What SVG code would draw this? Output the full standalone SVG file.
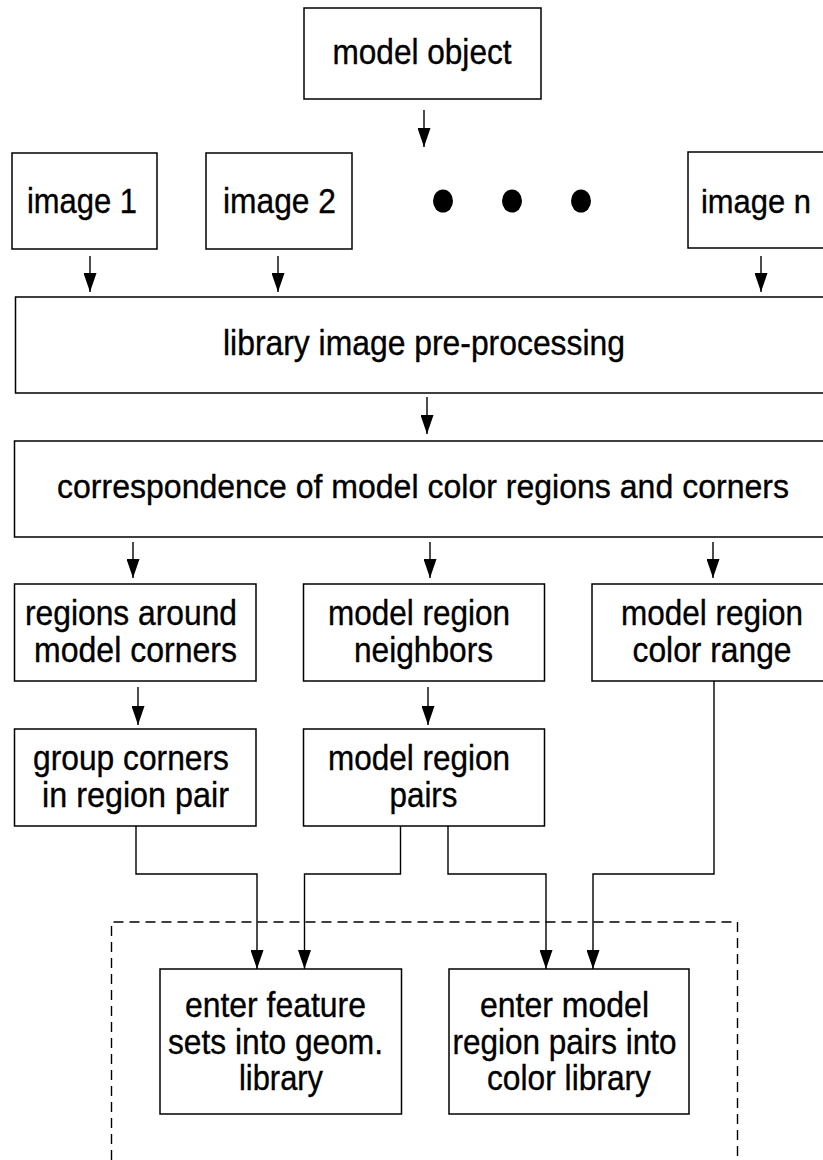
<svg xmlns="http://www.w3.org/2000/svg" width="823" height="1160" viewBox="0 0 823 1160">
  <style>
    .box { fill: #fff; stroke: #000; stroke-width: 1.5; }
    .lbl { font-family: "Liberation Sans", Arial, Helvetica, sans-serif; font-size: 35px; fill: #000; stroke: #000; stroke-width: 0.35; text-anchor: middle; }
    .tight { font-size: 33px; }
    .wire { fill: none; stroke: #000; stroke-width: 1.4; }
    .dash { fill: none; stroke: #000; stroke-width: 1.4; stroke-dasharray: 10 6; }
  </style>
  <defs>
    <marker id="head" markerUnits="userSpaceOnUse" markerWidth="19" markerHeight="13" refX="19" refY="6.5" orient="auto">
      <path d="M0,0 L19,6.5 L0,13 z" fill="#000"/>
    </marker>
  </defs>

  <rect width="823" height="1160" fill="#fff"/>

  <!-- dashed enclosure around the library-entry steps -->
  <path class="dash" d="M111.5,1160 V922 H737.5 V1160"/>

  <g id="model-object">
    <rect class="box" x="304" y="8" width="237" height="91"/>
    <text class="lbl" x="422" y="64" textLength="179" lengthAdjust="spacingAndGlyphs">model object</text>
  </g>

  <g id="image-1">
    <rect class="box" x="12" y="153" width="145" height="96"/>
    <text class="lbl" x="82" y="213" textLength="110" lengthAdjust="spacingAndGlyphs">image 1</text>
  </g>

  <g id="image-2">
    <rect class="box" x="206" y="153" width="146" height="96"/>
    <text class="lbl" x="279.5" y="213" textLength="113" lengthAdjust="spacingAndGlyphs">image 2</text>
  </g>

  <g id="ellipsis">
    <ellipse cx="443" cy="201" rx="10" ry="11.5" fill="#000"/>
    <ellipse cx="512" cy="201" rx="10" ry="11.5" fill="#000"/>
    <ellipse cx="581" cy="201" rx="10" ry="11.5" fill="#000"/>
  </g>

  <!-- boxes that run past the right border are drawn open on that side -->
  <g id="image-n">
    <path class="box" d="M823,152 H688 V248 H823"/>
    <text class="lbl tight" x="756" y="213" textLength="110" lengthAdjust="spacingAndGlyphs">image n</text>
  </g>

  <g id="preprocessing">
    <path class="box" d="M823,297 H15.5 V393 H823"/>
    <text class="lbl" x="424" y="355" textLength="402" lengthAdjust="spacingAndGlyphs">library image pre-processing</text>
  </g>

  <g id="correspondence">
    <path class="box" d="M823,441 H14.5 V537 H823"/>
    <text class="lbl tight" x="423" y="498" textLength="732" lengthAdjust="spacingAndGlyphs">correspondence of model color regions and corners</text>
  </g>

  <g id="regions-around-corners">
    <rect class="box" x="14.5" y="584" width="241.5" height="97"/>
    <text class="lbl" x="131" y="625" textLength="212" lengthAdjust="spacingAndGlyphs">regions around</text>
    <text class="lbl" x="135.5" y="662" textLength="203" lengthAdjust="spacingAndGlyphs">model corners</text>
  </g>

  <g id="region-neighbors">
    <rect class="box" x="303.5" y="584" width="241" height="97"/>
    <text class="lbl" x="419" y="625" textLength="182" lengthAdjust="spacingAndGlyphs">model region</text>
    <text class="lbl" x="423.5" y="662" textLength="139" lengthAdjust="spacingAndGlyphs">neighbors</text>
  </g>

  <g id="color-range">
    <path class="box" d="M823,584 H592 V681 H823"/>
    <text class="lbl" x="712" y="625" textLength="182" lengthAdjust="spacingAndGlyphs">model region</text>
    <text class="lbl" x="712" y="662" textLength="159" lengthAdjust="spacingAndGlyphs">color range</text>
  </g>

  <g id="group-corners">
    <rect class="box" x="14.5" y="729" width="241.5" height="97"/>
    <text class="lbl" x="131" y="770" textLength="196" lengthAdjust="spacingAndGlyphs">group corners</text>
    <text class="lbl" x="135.5" y="807" textLength="187" lengthAdjust="spacingAndGlyphs">in region pair</text>
  </g>

  <g id="region-pairs">
    <rect class="box" x="303.5" y="729" width="241" height="97"/>
    <text class="lbl" x="419" y="770" textLength="182" lengthAdjust="spacingAndGlyphs">model region</text>
    <text class="lbl" x="423.5" y="807" textLength="68" lengthAdjust="spacingAndGlyphs">pairs</text>
  </g>

  <g id="geom-library">
    <rect class="box" x="160" y="969" width="241.5" height="145"/>
    <text class="lbl" x="275.5" y="1017" textLength="181" lengthAdjust="spacingAndGlyphs">enter feature</text>
    <text class="lbl" x="275.5" y="1054" textLength="215" lengthAdjust="spacingAndGlyphs">sets into geom.</text>
    <text class="lbl" x="281" y="1090" textLength="84" lengthAdjust="spacingAndGlyphs">library</text>
  </g>

  <g id="color-library">
    <rect class="box" x="449" y="969" width="240" height="145"/>
    <text class="lbl" x="564.5" y="1017" textLength="169" lengthAdjust="spacingAndGlyphs">enter model</text>
    <text class="lbl" x="564.5" y="1054" textLength="224" lengthAdjust="spacingAndGlyphs">region pairs into</text>
    <text class="lbl" x="569" y="1090" textLength="164" lengthAdjust="spacingAndGlyphs">color library</text>
  </g>

  <g id="connectors">
    <line class="wire" x1="424" y1="110" x2="424" y2="147" marker-end="url(#head)"/>
    <line class="wire" x1="90" y1="256" x2="90" y2="292" marker-end="url(#head)"/>
    <line class="wire" x1="278" y1="256" x2="278" y2="292" marker-end="url(#head)"/>
    <line class="wire" x1="761" y1="256" x2="761" y2="292" marker-end="url(#head)"/>
    <line class="wire" x1="427" y1="397" x2="427" y2="434" marker-end="url(#head)"/>
    <line class="wire" x1="133" y1="542" x2="133" y2="578" marker-end="url(#head)"/>
    <line class="wire" x1="430" y1="542" x2="430" y2="578" marker-end="url(#head)"/>
    <line class="wire" x1="713" y1="542" x2="713" y2="578" marker-end="url(#head)"/>
    <line class="wire" x1="138" y1="687" x2="138" y2="725" marker-end="url(#head)"/>
    <line class="wire" x1="428" y1="687" x2="428" y2="725" marker-end="url(#head)"/>
    <path class="wire" d="M136,826 V874 H257 V969" marker-end="url(#head)"/>
    <path class="wire" d="M400.5,826 V874 H304.5 V969" marker-end="url(#head)"/>
    <path class="wire" d="M448,826 V874 H546 V969" marker-end="url(#head)"/>
    <path class="wire" d="M714,681 V874 H593 V969" marker-end="url(#head)"/>
  </g>
</svg>
